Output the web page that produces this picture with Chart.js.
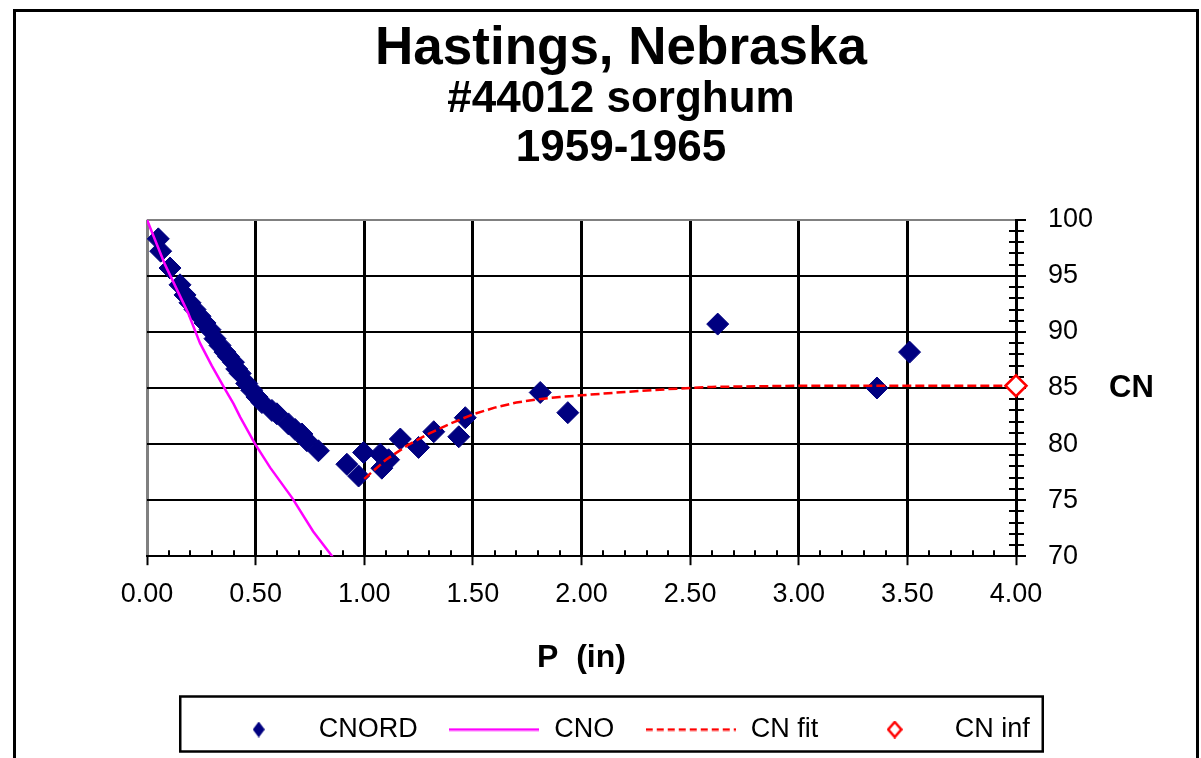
<!DOCTYPE html>
<html>
<head>
<meta charset="utf-8">
<title>Hastings, Nebraska</title>
<script src="https://cdn.jsdelivr.net/npm/chart.js@4.4.0/dist/chart.umd.min.js"></script>
<style>
  html, body { margin: 0; padding: 0; background: #fff; overflow: hidden; }
  #wrap { position: relative; width: 1201px; height: 758px; }
  #frame { position: absolute; left: 13px; top: 9px; width: 1180px; height: 800px;
           border: 3px solid #000; pointer-events: none; }
  canvas { display: block; }
</style>
</head>
<body>
<div id="wrap">
  <canvas id="chart" width="1201" height="758"></canvas>
  <div id="frame"></div>
</div>
<script>
/* global Chart */
(() => {
  "use strict";

  const FONT = "'Liberation Sans', Arial, sans-serif";
  const NAVY = "#000080";
  const MAGENTA = "#FF00FF";
  const RED = "#FF0000";
  const GREY = "#808080";

  // observed CN vs rainfall P (in)
  const cnordP = [0.052, 0.063, 0.106, 0.152, 0.175, 0.198, 0.221, 0.244, 0.267, 0.29,
    0.313, 0.336, 0.359, 0.375, 0.398, 0.413, 0.429, 0.459, 0.482, 0.506,
    0.529, 0.575, 0.598, 0.651, 0.682, 0.713, 0.736, 0.789, 0.92, 0.974,
    0.997, 1.074, 1.081, 1.112, 1.166, 1.25, 1.32, 1.435, 1.465, 1.81,
    1.937, 2.627, 3.36, 3.51];
  const cnordCN = [98.3, 97.2, 95.7, 94.2, 93.3, 92.6, 92.0, 91.4, 90.8, 90.2,
    89.4, 88.8, 88.2, 87.8, 87.3, 86.7, 86.3, 85.4, 84.8, 84.2,
    83.7, 83.0, 82.7, 81.8, 81.3, 80.9, 80.3, 79.4, 78.2, 77.15,
    79.25, 79.1, 77.85, 78.6, 80.45, 79.7, 81.1, 80.65, 82.35, 84.6,
    82.8, 90.7, 85.0, 88.2];

  // CNO curve
  const cnoP = [0, 0.083, 0.189, 0.244, 0.298, 0.359, 0.398, 0.429, 0.498, 0.567, 0.668, 0.765, 0.86];
  const cnoCN = [100, 96.0, 91.7, 89.0, 87.0, 84.9, 83.6, 82.4, 80.0, 77.9, 75.2, 72.2, 69.8];

  // fitted curve
  const fitP = [1.0, 1.1, 1.2, 1.3, 1.4, 1.5, 1.6, 1.7, 1.8, 1.9, 2.0, 2.2, 2.4, 2.6, 2.8, 3.0, 3.5, 4.0];
  const fitCN = [76.9, 78.6, 79.9, 80.95, 81.85, 82.65, 83.25, 83.7, 84.0, 84.2, 84.35, 84.65, 84.9, 85.1, 85.15, 85.2, 85.2, 85.2];

  // asymptote
  const infP = [4.0];
  const infCN = [85.2];

  const LABELS = ["CNORD", "CNO", "CN fit", "CN inf"];
  const TITLE = "Hastings, Nebraska";
  const SUBTITLE = ["#44012 sorghum", "1959-1965"];

  const pts = (xs, ys) => xs.map((x, i) => ({ x, y: ys[i] }));

  function swatch(w, h, draw) {
    const c = document.createElement("canvas");
    c.width = w;
    c.height = h;
    draw(c.getContext("2d"), w, h);
    return c;
  }

  function diamondPath(g, w, h, inset) {
    g.beginPath();
    g.moveTo(w / 2, inset);
    g.lineTo(w - inset, h / 2);
    g.lineTo(w / 2, h - inset);
    g.lineTo(inset, h / 2);
    g.closePath();
  }

  const SWATCHES = [
    swatch(12, 16, (g, w, h) => { diamondPath(g, w, h, 0); g.fillStyle = NAVY; g.fill(); }),
    swatch(90, 4, (g, w, h) => {
      g.strokeStyle = MAGENTA; g.lineWidth = 2.5;
      g.beginPath(); g.moveTo(0, h / 2); g.lineTo(w, h / 2); g.stroke();
    }),
    swatch(90, 4, (g, w, h) => {
      g.strokeStyle = RED; g.lineWidth = 2.5; g.setLineDash([7, 4]);
      g.beginPath(); g.moveTo(0, h / 2); g.lineTo(w, h / 2); g.stroke();
    }),
    swatch(16, 18, (g, w, h) => {
      diamondPath(g, w, h, 1.5); g.fillStyle = "#fff"; g.fill();
      g.strokeStyle = RED; g.lineWidth = 2.5; g.stroke();
    })
  ];

  const minorTicks = {
    id: "minorTicks",
    beforeDatasetsDraw(chart) {
      const { ctx, chartArea, scales: { x, y } } = chart;
      ctx.save();
      ctx.strokeStyle = "#000";
      ctx.lineWidth = 2;
      ctx.beginPath();
      for (let i = 1; i < 40; i++) {
        if (i % 5 === 0) continue;
        const px = Math.round(x.getPixelForValue(i / 10));
        ctx.moveTo(px, chartArea.bottom);
        ctx.lineTo(px, chartArea.bottom - 6);
      }
      for (let v = 71; v < 100; v++) {
        if (v % 5 === 0) continue;
        const py = Math.round(y.getPixelForValue(v));
        ctx.moveTo(chartArea.right - 7, py);
        ctx.lineTo(chartArea.right + 8, py);
      }
      ctx.stroke();
      ctx.restore();
    }
  };

  const sideLabel = {
    id: "sideLabel",
    afterDraw(chart) {
      const { ctx, chartArea } = chart;
      ctx.save();
      ctx.font = `bold 31px ${FONT}`;
      ctx.fillStyle = "#000";
      ctx.textBaseline = "middle";
      ctx.textAlign = "left";
      ctx.fillText("CN", chartArea.right + 93, (chartArea.top + chartArea.bottom) / 2);
      ctx.restore();
    }
  };

  const legendFrame = {
    id: "legendFrame",
    afterDraw(chart) {
      const boxes = chart.legend && chart.legend.legendHitBoxes;
      if (!boxes || !boxes.length) return;
      const first = boxes[0];
      const last = boxes[boxes.length - 1];
      const cy = first.top + first.height / 2;
      const left = first.left - 32;
      const right = last.left + last.width + 13;
      const ctx = chart.ctx;
      ctx.save();
      ctx.strokeStyle = "#000";
      ctx.lineWidth = 2.5;
      ctx.strokeRect(left, cy - 33, right - left, 55);
      ctx.restore();
    }
  };

  Chart.defaults.font.family = FONT;
  Chart.defaults.color = "#000";

  new Chart(document.getElementById("chart"), {
    type: "scatter",
    data: {
      datasets: [
        {
          label: LABELS[0],
          data: pts(cnordP, cnordCN),
          pointStyle: "rectRot",
          pointRadius: 11,
          pointBackgroundColor: NAVY,
          pointBorderColor: NAVY,
          pointBorderWidth: 1,
          backgroundColor: NAVY,
          borderColor: NAVY,
          order: 3
        },
        {
          label: LABELS[1],
          data: pts(cnoP, cnoCN),
          showLine: true,
          borderColor: MAGENTA,
          backgroundColor: MAGENTA,
          borderWidth: 2.5,
          pointRadius: 0,
          order: 2
        },
        {
          label: LABELS[2],
          data: pts(fitP, fitCN),
          showLine: true,
          borderColor: RED,
          backgroundColor: RED,
          borderWidth: 2.5,
          borderDash: [9, 4],
          pointRadius: 0,
          order: 1
        },
        {
          label: LABELS[3],
          data: pts(infP, infCN),
          pointStyle: "rectRot",
          pointRadius: 10.5,
          pointBackgroundColor: "#fff",
          pointBorderColor: RED,
          pointBorderWidth: 2.5,
          clip: false,
          order: 0
        }
      ]
    },
    options: {
      responsive: false,
      animation: false,
      events: [],
      layout: { padding: { top: 15, left: 147, right: 106, bottom: 5 } },
      plugins: {
        title: {
          display: true,
          text: TITLE,
          font: { size: 53, weight: "bold", lineHeight: 1 },
          padding: { top: 8, bottom: 0 }
        },
        subtitle: {
          display: true,
          text: SUBTITLE,
          color: "#000",
          font: { size: 44, weight: "bold", lineHeight: 1.1 },
          padding: { top: 0, bottom: 47 }
        },
        legend: {
          position: "bottom",
          labels: {
            usePointStyle: true,
            pointStyleWidth: 93,
            font: { size: 27 },
            padding: 30,
            color: "#000",
            sort: (a, b) => a.datasetIndex - b.datasetIndex,
            generateLabels(chart) {
              const items = Chart.defaults.plugins.legend.labels.generateLabels(chart);
              items.forEach(it => { it.pointStyle = SWATCHES[it.datasetIndex]; });
              return items;
            }
          }
        },
        tooltip: { enabled: false }
      },
      scales: {
        x: {
          type: "linear",
          min: 0,
          max: 4,
          ticks: {
            stepSize: 0.5,
            autoSkip: false,
            maxRotation: 0,
            padding: 13,
            font: { size: 27 },
            callback: v => Number(v).toFixed(2)
          },
          grid: {
            color: c => (c.tick && c.tick.value === 0 ? GREY : "#000"),
            lineWidth: 3,
            tickColor: "#000",
            tickLength: 9,
            tickWidth: 2
          },
          border: { display: true, color: "#000", width: 2 },
          title: {
            display: true,
            text: "P  (in)",
            font: { size: 32, weight: "bold" },
            padding: { top: 15, bottom: 9 }
          }
        },
        y: {
          type: "linear",
          position: "right",
          min: 70,
          max: 100,
          ticks: {
            stepSize: 5,
            padding: 22,
            font: { size: 27 }
          },
          grid: {
            color: c => (c.tick && c.tick.value === 100 ? GREY : "#000"),
            lineWidth: 2,
            tickColor: "#000",
            tickLength: 10,
            tickWidth: 2
          },
          border: { display: true, color: "#000", width: 2 },
          afterFit: scale => { scale.width = 79; }
        }
      }
    },
    plugins: [minorTicks, sideLabel, legendFrame]
  });
})();
</script>
</body>
</html>
